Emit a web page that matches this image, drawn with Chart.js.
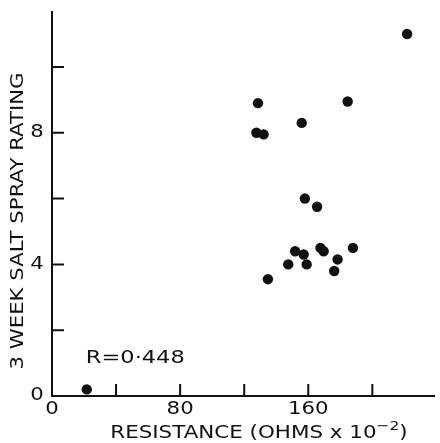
<!DOCTYPE html>
<html>
<head>
<meta charset="utf-8">
<script src="https://cdn.jsdelivr.net/npm/chart.js@4"></script>
<style>
  body { margin: 0; background: #fff; }
  #wrap { width: 440px; height: 443px; }
</style>
</head>
<body>
<div id="wrap"><canvas id="saltSpray" width="440" height="443"></canvas></div>
<script>
// readings taken off the plot
const resistance = [21.7, 128.6, 127.6, 132.1, 155.9, 184.6, 221.7, 157.9, 165.5, 134.8,
                    147.5, 151.8, 157.1, 159.0, 167.6, 169.6, 176.2, 178.3, 187.9];
const rating = [0.2, 8.9, 8.0, 7.95, 8.3, 8.95, 11.0, 6.0, 5.75, 3.55,
                4.0, 4.4, 4.3, 4.0, 4.5, 4.4, 3.8, 4.15, 4.5];

const xTicks = [40, 80, 120, 160, 200];
const yTicks = [2, 4, 6, 8, 10];
const xTickLabels = [0, 80, 160];
const yTickLabels = [0, 4, 8];
const xTitle = "RESISTANCE (OHMS x 10";
const xTitleSup = "\u22122";
const yTitle = "3 WEEK SALT SPRAY RATING";
const rText = "R=0\u00b7448";

const ink = "#111";
const face = '"DejaVu Sans", sans-serif';
const stretch = 1.25;

function wideText(ctx, text, x, y, size) {
  ctx.save();
  ctx.translate(x, y);
  ctx.scale(stretch, 1);
  ctx.font = size + "px " + face;
  ctx.textAlign = "center";
  ctx.textBaseline = "middle";
  ctx.fillText(text, 0, 0);
  ctx.restore();
}

// tick marks point inwards, and all lettering is drawn a bit wide like the old stencil text
const lettering = {
  id: "lettering",
  afterDraw(chart) {
    const ctx = chart.ctx;
    const xs = chart.scales.x, ys = chart.scales.y;
    const area = chart.chartArea;
    ctx.save();
    ctx.strokeStyle = ink;
    ctx.fillStyle = ink;
    ctx.lineWidth = 2;
    ctx.beginPath();
    xTicks.forEach(v => {
      const px = xs.getPixelForValue(v);
      ctx.moveTo(px, area.bottom);
      ctx.lineTo(px, area.bottom - 12);
    });
    yTicks.forEach(v => {
      const py = ys.getPixelForValue(v);
      ctx.moveTo(area.left, py);
      ctx.lineTo(area.left + 12, py);
    });
    ctx.stroke();

    xTickLabels.forEach(v => wideText(ctx, String(v), xs.getPixelForValue(v), 410, 17));
    yTickLabels.forEach(v => wideText(ctx, String(v), 37, ys.getPixelForValue(v), 17));

    wideText(ctx, rText, xs.getPixelForValue(52), ys.getPixelForValue(1.15), 18);

    // y title
    ctx.save();
    ctx.translate(19, 221);
    ctx.rotate(-Math.PI / 2);
    ctx.scale(stretch, 1);
    ctx.font = "17px " + face;
    ctx.textAlign = "center";
    ctx.textBaseline = "middle";
    ctx.fillText(yTitle, 0, 0);
    ctx.restore();

    // x title with superscript
    ctx.save();
    ctx.translate(259, 438);
    ctx.scale(1.19, 1);
    ctx.textBaseline = "alphabetic";
    ctx.textAlign = "left";
    ctx.font = "18px " + face;
    const w1 = ctx.measureText(xTitle).width;
    const w3 = ctx.measureText(")").width;
    ctx.font = "13px " + face;
    const w2 = ctx.measureText(xTitleSup).width;
    let x0 = -(w1 + w2 + w3) / 2;
    ctx.font = "18px " + face;
    ctx.fillText(xTitle, x0, 0);
    ctx.font = "13px " + face;
    ctx.fillText(xTitleSup, x0 + w1, -8);
    ctx.font = "18px " + face;
    ctx.fillText(")", x0 + w1 + w2, 0);
    ctx.restore();

    ctx.restore();
  }
};

new Chart(document.getElementById("saltSpray"), {
  type: "scatter",
  data: {
    datasets: [{
      label: "rating",
      data: resistance.map((r, i) => ({ x: r, y: rating[i] })),
      backgroundColor: ink,
      borderWidth: 0,
      pointRadius: 5.2
    }]
  },
  options: {
    responsive: false,
    animation: false,
    layout: { padding: { top: 12, right: 0, left: 0, bottom: 0 } },
    scales: {
      x: {
        type: "linear",
        min: 0,
        max: 239,
        afterFit: s => { s.height = 47; },
        grid: { display: false, drawTicks: false },
        border: { display: true, color: ink, width: 2 },
        ticks: { display: false, stepSize: 40, includeBounds: false }
      },
      y: {
        type: "linear",
        min: 0,
        max: 11.67,
        afterFit: s => { s.width = 52; },
        grid: { display: false, drawTicks: false },
        border: { display: true, color: ink, width: 2 },
        ticks: { display: false, stepSize: 2, includeBounds: false }
      }
    },
    plugins: {
      legend: { display: false },
      tooltip: { enabled: false }
    }
  },
  plugins: [lettering]
});
</script>
</body>
</html>
